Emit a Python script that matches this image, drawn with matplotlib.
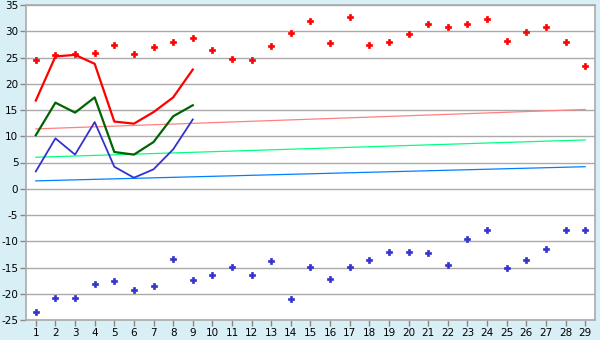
import matplotlib
matplotlib.use("Agg")
import matplotlib.pyplot as plt

plt.rcParams["axes.unicode_minus"] = False

days = list(range(1, 30))
rec_max = [24.6, 25.4, 25.7, 25.9, 27.3, 25.6, 27.0, 28.0, 28.8, 26.5,
           24.8, 24.6, 27.2, 29.7, 32.0, 27.8, 32.8, 27.4, 28.0, 29.5,
           31.4, 30.9, 31.4, 32.4, 28.2, 29.9, 30.9, 28.0, 23.4]
rec_min = [-23.4, -20.8, -20.8, -18.1, -17.5, -19.2, -18.5, -13.3, -17.3, -16.4,
           -14.9, -16.4, -13.7, -21.0, -14.9, -17.1, -14.9, -13.5, -12.0, -12.0,
           -12.2, -14.5, -9.5, -7.8, -15.0, -13.5, -11.4, -7.8, -7.8]
cur_days = list(range(1, 10))
cur_max = [16.8, 25.2, 25.5, 23.8, 12.8, 12.4, 14.6, 17.4, 22.7]
cur_mean = [10.2, 16.4, 14.5, 17.4, 7.0, 6.5, 8.9, 13.8, 15.9]
cur_min = [3.3, 9.6, 6.5, 12.7, 4.2, 2.1, 3.7, 7.5, 13.2]
trend_days = [1, 29]
avg_max = [11.4, 15.1]
avg_mean = [6.0, 9.3]
avg_min = [1.5, 4.2]
yticks = list(range(-25, 40, 5))

fig = plt.figure(figsize=(6, 3.4), dpi=100)
fig.patch.set_facecolor("#d9eff6")
ax = fig.add_axes([26/600, 1-320/340, (595-26)/600, (320-5)/340])
ax.set_facecolor("white")

for yv in yticks:
    ax.axhline(yv, color="#aaaaaa", lw=1.0, zorder=1)

ax.plot(trend_days, avg_max, color="#ff8080", lw=0.9, zorder=2)
ax.plot(trend_days, avg_mean, color="#00ff80", lw=0.9, zorder=2)
ax.plot(trend_days, avg_min, color="#0080ff", lw=0.9, zorder=2)

ax.plot(cur_days, cur_max, color="#ff0000", lw=1.6, zorder=3)
ax.plot(cur_days, cur_mean, color="#006400", lw=1.6, zorder=3)
ax.plot(cur_days, cur_min, color="#3333cc", lw=1.3, zorder=3)

ax.plot(days, rec_max, ls="none", marker="P", ms=3.8, color="#ff0000", mew=0.5, zorder=4)
ax.plot(days, rec_min, ls="none", marker="P", ms=3.8, color="#3333cc", mew=0.5, zorder=4)

ax.set_xlim(0.5, 29.5)
ax.set_ylim(-25, 35)
ax.set_xticks(days)
ax.set_yticks(yticks)
ax.tick_params(axis="both", colors="#000000", labelsize=7.5, length=4, width=1,
               color="#888888", direction="out", pad=1.5)
for s in ax.spines.values():
    s.set_color("#aaaaaa")
    s.set_linewidth(1.2)

fig.savefig("out.png", dpi=100, facecolor=fig.get_facecolor())
